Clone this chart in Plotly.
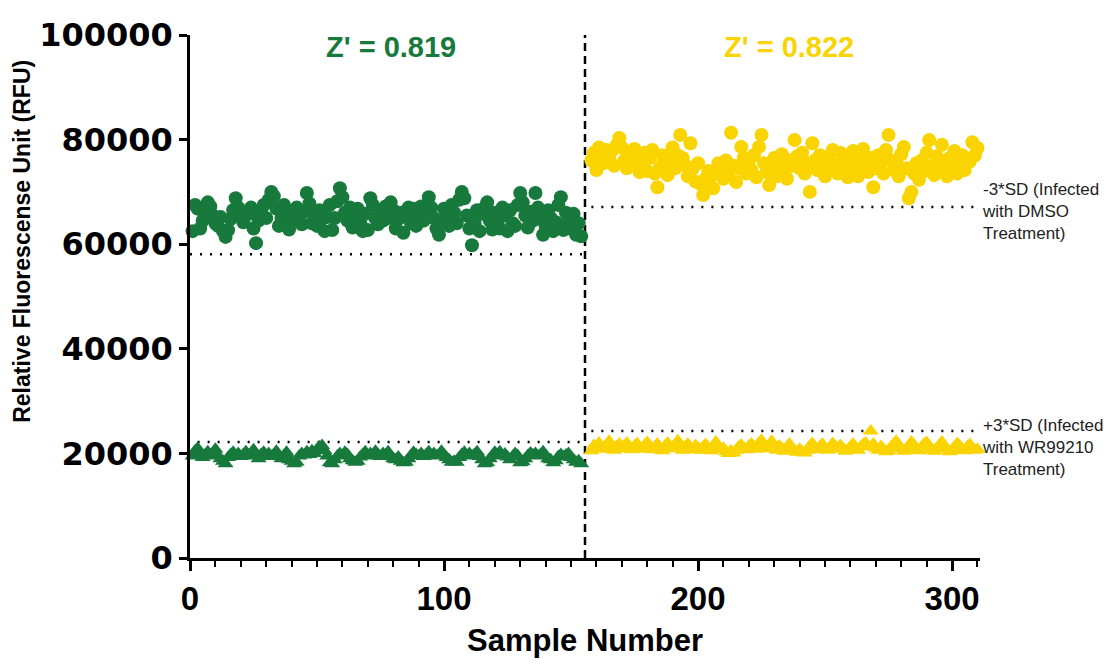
import plotly.graph_objects as go

# ---------------- data ----------------
green_x = list(range(1, 155))
yellow_x = list(range(158, 311))

green_dmso = [
    62500, 67500, 66800, 63000, 64500, 66000, 68000, 67200, 65500, 64000,
    63500, 65200, 62500, 61400, 62700, 64800, 66500, 68800, 67000, 65500,
    64200, 66200, 65800, 67000, 63000, 60200, 64500, 66000, 67500, 65000,
    68500, 70000, 69200, 66800, 63500, 65000, 67500, 64200, 62800, 66000,
    64500, 67000, 65500, 63800, 66200, 69800, 67800, 64000, 65800, 63500,
    66500, 64800, 62500, 65200, 67500, 62700, 65000, 68200, 70700, 69000,
    66000, 64500, 67000, 63200, 65500, 66800, 64000, 62500, 65800, 62700,
    68800, 67500, 65000, 63800, 66200, 64500, 67200, 65000, 68000, 66500,
    63000, 64800, 66000, 62200, 65500, 67000, 64000, 66800, 63500, 65200,
    67200, 64500, 66500, 69000, 67000, 65000, 63000, 61800, 64200, 66800,
    65500, 63500, 67500, 66000, 64000, 68500, 70000, 68800, 65500, 63000,
    59800, 64000, 66500, 62500, 65800, 67000, 68000, 64500, 62800, 66000,
    64500, 63000, 67000, 65500, 62500, 66500, 64000, 63500, 67500, 69800,
    68000, 65500, 63200, 66200, 64500, 69800, 67000, 64800, 61800, 63500,
    66500, 65000, 62500, 64200, 67500, 69000, 62700, 66000, 64500, 63000,
    65800, 61800, 64000, 61500,
]

green_wr = [
    19500, 20500, 21000, 20000, 19200, 19800, 20300, 19600, 20000, 20800,
    19500, 19000, 18500, 18000, 19200, 19800, 20200, 19500, 20000, 19400,
    19800, 20300, 19600, 20000, 20700, 19500, 19000, 19800, 20200, 19600,
    20000, 19400, 19800, 20400, 19500, 19000, 19600, 20200, 18800, 18500,
    18000, 18300, 19500, 20000, 19700, 20300, 19800, 20500, 20000, 20800,
    21200, 21500, 20500, 19500, 18200, 18000, 18800, 19500, 20000, 19600,
    20200, 19800, 19000, 18600, 18300, 18500, 19300, 19800, 20300, 19600,
    20000, 19500, 20400, 19800, 19400, 20000, 19700, 20300, 19500, 19000,
    18800, 19300, 18500, 18200, 18300, 19000, 19600, 20200, 19800, 19500,
    20000, 19400, 19800, 20300, 19600, 20000, 19500, 19800, 20400, 19700,
    19200, 18800, 18300, 18500, 18300, 19200, 19800, 20200, 19600, 20000,
    19500, 19800, 20300, 19400, 18800, 18000, 18200, 19000, 19600, 20200,
    19800, 20300, 19500, 19900, 19300, 18800, 19400, 20000, 19600, 18200,
    18400, 19000, 19600, 20100, 19700, 20000, 19500, 19800, 20300, 19600,
    19000, 18800, 18200, 18600, 19400, 19800, 19300, 19700, 20000, 19200,
    18800, 18300, 18600, 18000,
]

yellow_dmso = [
    76000, 77500, 74200, 78500, 77000, 75500, 78000, 76500, 77800, 75000,
    79000, 80300, 78500, 76000, 74500, 77000, 75200, 78200, 76800, 73800,
    75500, 77500, 74000, 76500, 78000, 73500, 70900, 74800, 77000, 75500,
    73200, 76000, 78500, 74500, 77000, 80900, 76500, 75000, 73000, 79300,
    74500, 72000, 75500, 71500, 69400, 72500, 74000, 73000, 70700, 73500,
    75500, 74000, 72500, 76000, 73800, 81300, 75000, 71900, 74500, 78600,
    76500, 73500, 75800, 74200, 77000, 72800, 78600, 80900, 75500, 73800,
    71300, 74500, 76500, 73000, 75800, 77200, 74000, 72500, 76000, 75000,
    79900, 76800, 74500, 77500, 73500, 75500, 70000, 79300, 76000, 74200,
    77000, 75500, 73000, 76500, 74800, 78000, 75200, 73500, 77500, 74000,
    76000, 72800, 75500, 77800, 74500, 73000, 76200, 78200, 75000, 73800,
    76500, 70900, 74500, 77000, 75500, 73500, 78000, 80900, 76000, 74200,
    75800, 73000, 77200, 78600, 74500, 68800, 70000, 73500, 75500, 72300,
    76000, 74000, 77500, 79900, 75000, 73200, 76800, 74500, 79000, 75500,
    73000, 76500, 74800, 77800, 73500, 75500, 77000, 74200, 76000, 75800,
    79500, 77000, 78400,
]

yellow_wr = [
    20500, 21500, 21000, 22000, 21200, 20800, 21600, 22300, 21000, 20600,
    21300, 21800, 20900, 21500, 22000, 21200, 20700, 21400, 21900, 21000,
    20800, 21600, 22100, 21300, 20700, 21200, 21800, 21000, 20500, 21400,
    22000, 21300, 20900, 21600, 22400, 21100, 20600, 21300, 21800, 21000,
    20700, 21500, 21100, 20600, 21200, 21700, 21000, 20500, 21300, 22200,
    21400, 20800, 21000, 20300, 20000, 20500, 20100, 20600, 21200, 21600,
    21000, 20700, 21400, 21800, 21200, 20800, 22000, 22500, 21300, 20900,
    21500, 22300, 21100, 20600, 21400, 21000, 20400, 21200, 21800, 21000,
    20500, 20200, 20800, 20300, 20100, 20600, 21400, 21900, 21200, 20700,
    21300, 21800, 21000, 20600, 21200, 21900, 21300, 20800, 21500, 21000,
    20400, 20700, 21300, 21800, 21100, 20600, 21200, 21700, 22000, 21300,
    24300, 21800, 21000, 20600, 21300, 20800, 20300, 20500, 21200, 21800,
    22300, 21500, 20900, 20400, 20700, 21300, 22200, 21600, 21000, 20500,
    21200, 21800, 22100, 21400, 20800, 20400, 21000, 21600, 22200, 21300,
    20800, 20300, 20600, 21200, 21900, 21400, 20800, 20500, 21300, 21700,
    21000, 20600, 20800,
]

# threshold lines: [x_start, x_end], value
green_lower_x = [0, 155]
green_lower_y = 58100
green_upper_x = [3, 155]
green_upper_y = 22200
yellow_lower_x = [158, 309]
yellow_lower_y = 67100
yellow_upper_x = [158, 309]
yellow_upper_y = 24300

divider_x = 155.5
z_green = "Z' = 0.819"
z_yellow = "Z' = 0.822"
label_lower = "-3*SD (Infected<br>with DMSO<br>Treatment)"
label_upper = "+3*SD (Infected<br>with WR99210<br>Treatment)"
x_title = "Sample Number"
y_title = "Relative Fluorescense Unit (RFU)"

x_ticks = [0, 100, 200, 300]
y_ticks = [0, 20000, 40000, 60000, 80000, 100000]

GREEN = "#177a3c"
YELLOW = "#fad400"
ARIAL = "Liberation Sans, Arial"

fig = go.Figure()

def hline(xs, yv):
    fig.add_trace(go.Scatter(
        x=xs, y=[yv, yv], mode="lines",
        line=dict(color="black", width=2.5, dash="2px,8px"),
        hoverinfo="skip", showlegend=False, cliponaxis=False))

hline(green_lower_x, green_lower_y)
hline(green_upper_x, green_upper_y)
hline(yellow_lower_x, yellow_lower_y)
hline(yellow_upper_x, yellow_upper_y)

fig.add_trace(go.Scatter(
    x=[divider_x, divider_x], y=[0, 100000], mode="lines",
    line=dict(color="black", width=2.5, dash="8px,5px"),
    hoverinfo="skip", showlegend=False, cliponaxis=False))

for xs, ys, sym, col in [
    (green_x, green_wr, "triangle-up", GREEN),
    (green_x, green_dmso, "circle", GREEN),
    (yellow_x, yellow_wr, "triangle-up", YELLOW),
    (yellow_x, yellow_dmso, "circle", YELLOW),
]:
    fig.add_trace(go.Scatter(
        x=xs, y=ys, mode="markers",
        marker=dict(symbol=sym, size=14, color=col, line=dict(width=0)),
        showlegend=False, cliponaxis=False))

fig.add_annotation(x=79, y=97800, xref="x", yref="y", text=z_green, showarrow=False,
                   font=dict(family=ARIAL, size=29, color=GREEN, weight="bold"))
fig.add_annotation(x=236, y=97800, xref="x", yref="y", text=z_yellow, showarrow=False,
                   font=dict(family=ARIAL, size=29, color=YELLOW, weight="bold"))

fig.add_annotation(x=1, xref="paper", y=66300, yref="y", text=label_lower, showarrow=False,
                   xanchor="left", yanchor="middle", align="left", xshift=0,
                   font=dict(family=ARIAL, size=17, color="#222"))
fig.add_annotation(x=1, xref="paper", y=21200, yref="y", text=label_upper, showarrow=False,
                   xanchor="left", yanchor="middle", align="left", xshift=0,
                   font=dict(family=ARIAL, size=17, color="#222"))

# axis titles
fig.add_annotation(x=0.5, xref="paper", y=-0.158, yref="paper", text=x_title, showarrow=False,
                   xanchor="center", yanchor="middle",
                   font=dict(family=ARIAL, size=31, color="black", weight="bold"))
fig.add_annotation(x=-0.213, xref="paper", y=0.606, yref="paper", text=y_title, showarrow=False,
                   xanchor="center", yanchor="middle", textangle=-90,
                   font=dict(family=ARIAL, size=23, color="black", weight="bold"))

# page body adds an 8px offset, so margins are reduced by 8 on left/top
fig.update_layout(
    width=1115, height=666,
    margin=dict(l=182, r=143, t=27, b=116, autoexpand=False),
    plot_bgcolor="white", paper_bgcolor="white",
    showlegend=False,
)

fig.update_xaxes(
    range=[0, 311], tickvals=x_ticks, ticktext=[str(v) for v in x_ticks],
    automargin=False,
    showgrid=False, zeroline=False, showline=True, linecolor="black", linewidth=2.5,
    ticks="outside", ticklen=10, tickwidth=2.5, tickcolor="black",
    minor=dict(dtick=10, tick0=0, ticks="outside", ticklen=6, tickwidth=2, tickcolor="black", showgrid=False),
    tickfont=dict(family=ARIAL, size=33, color="black", weight="bold"),
)
fig.update_yaxes(
    range=[0, 100000], tickvals=y_ticks, ticktext=[str(v) for v in y_ticks],
    automargin=False,
    showgrid=False, zeroline=False, showline=True, linecolor="black", linewidth=2.5,
    ticks="outside", ticklen=8, tickwidth=2.5, tickcolor="black",
    tickfont=dict(family="DejaVu Sans, Arial", size=32, color="black", weight="bold"),
)

fig.write_html("out.html")
